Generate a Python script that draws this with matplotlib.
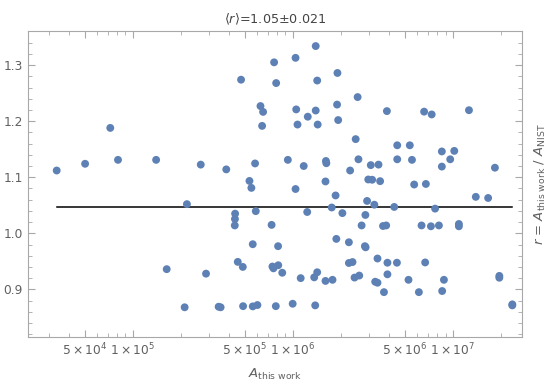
import numpy as np
import matplotlib
matplotlib.use("Agg")
import matplotlib.pyplot as plt
from matplotlib.ticker import FixedLocator, NullFormatter

# A_this work values and ratio r = A_this work / A_NIST
a_this = [3.35e4, 5.04e4, 7.24e4, 8.09e4, 1.40e5, 2.66e5, 2.18e5, 1.63e5, 2.87e5, 2.11e5,
          1.39e6, 1.04e6, 7.64e5, 4.75e5, 7.87e5, 1.42e6, 1.90e6, 2.54e6, 6.28e5, 6.52e5,
          6.43e5, 1.05e6, 1.39e6, 1.24e6, 1.89e6, 1.07e6, 1.43e6, 1.92e6, 2.47e6, 3.84e5,
          5.81e5, 9.31e5, 1.17e6, 1.61e6, 1.62e6, 2.57e6, 2.28e6, 5.36e5, 5.51e5, 1.04e6,
          1.60e6, 1.85e6, 5.87e5, 4.36e5, 4.35e5, 4.34e5, 1.23e6, 1.75e6, 2.04e6, 7.37e5,
          2.69e6, 5.62e5, 8.09e5, 1.87e6, 2.24e6, 4.53e5, 4.87e5, 7.46e5, 7.57e5, 8.11e5,
          8.59e5, 1.12e6, 1.36e6, 1.42e6, 1.60e6, 1.77e6, 2.24e6, 2.36e6, 2.43e6, 2.60e6,
          3.44e5, 3.54e5, 4.89e5, 5.62e5, 6.01e5, 7.83e5, 9.98e5, 1.38e6, 2.82e6, 2.84e6,
          2.91e6, 3.23e6, 3.07e6, 3.43e6, 2.96e6, 3.13e6, 3.51e6, 3.87e6, 4.49e6, 5.38e6,
          4.49e6, 5.55e6, 6.61e6, 7.37e6, 5.73e6, 6.78e6, 8.53e6, 1.02e7, 9.62e6, 8.53e6,
          1.26e7, 1.83e7, 4.30e6, 7.74e6, 1.39e7, 1.66e7, 3.66e6, 3.83e6, 6.37e6, 7.29e6,
          8.18e6, 1.09e7, 1.09e7, 3.38e6, 3.90e6, 4.47e6, 6.71e6, 3.27e6, 3.38e6, 3.90e6,
          5.28e6, 8.79e6, 3.71e6, 6.13e6, 8.57e6, 1.95e7, 1.95e7, 2.35e7, 2.35e7, 2.85e6]
ratio = [1.112, 1.124, 1.188, 1.131, 1.131, 1.1225, 1.052, 0.936, 0.928, 0.868,
         1.334, 1.313, 1.305, 1.274, 1.268, 1.2725, 1.286, 1.243, 1.227, 1.2166,
         1.1916, 1.221, 1.219, 1.208, 1.2296, 1.194, 1.194, 1.202, 1.168, 1.114,
         1.1246, 1.131, 1.120, 1.129, 1.125, 1.132, 1.112, 1.0934, 1.081, 1.079,
         1.0925, 1.0675, 1.0395, 1.035, 1.0255, 1.014, 1.038, 1.046, 1.036, 1.015,
         1.014, 0.9805, 0.977, 0.990, 0.984, 0.949, 0.940, 0.9407, 0.9375, 0.943,
         0.9296, 0.920, 0.9214, 0.9305, 0.915, 0.917, 0.947, 0.9487, 0.921, 0.9246,
         0.869, 0.868, 0.870, 0.8696, 0.872, 0.870, 0.8743, 0.8714, 0.977, 1.0327,
         1.0577, 1.051, 1.1216, 1.1225, 1.096, 1.0955, 1.093, 1.218, 1.157, 1.157,
         1.132, 1.131, 1.217, 1.212, 1.087, 1.088, 1.146, 1.147, 1.132, 1.119,
         1.2196, 1.117, 1.047, 1.044, 1.065, 1.063, 1.013, 1.014, 1.014, 1.0125,
         1.014, 1.0166, 1.0125, 0.955, 0.9475, 0.9475, 0.948, 0.9136, 0.9118, 0.9268,
         0.917, 0.917, 0.895, 0.895, 0.897, 0.924, 0.9207, 0.8732, 0.8714, 0.975]
mean_r = 1.0465

x_major = [5e4, 1e5, 5e5, 1e6, 5e6, 1e7]
x_labels = [r"$5\times10^{4}$", r"$1\times10^{5}$", r"$5\times10^{5}$",
            r"$1\times10^{6}$", r"$5\times10^{6}$", r"$1\times10^{7}$"]
y_major = [0.9, 1.0, 1.1, 1.2, 1.3]

plt.rcParams["mathtext.default"] = "regular"
plt.rcParams["font.size"] = 8.5

fig = plt.figure(figsize=(5.5, 3.85), dpi=100)
ax = fig.add_axes([0.0504, 0.1247, 0.8986, 0.7935])

ax.scatter(a_this, ratio, s=32, color="#5E81B5", edgecolors="none", zorder=3)
ax.plot([min(a_this), max(a_this)], [mean_r, mean_r], color="black", lw=1.1, zorder=2)

ax.set_xscale("log")
ax.set_xlim(2.208e4, 2.70e7)
ax.set_ylim(0.815, 1.360)

minor_x = [m * 10 ** e for e in range(4, 8) for m in range(2, 10)]
minor_x = [v for v in minor_x if v not in x_major]
ax.xaxis.set_major_locator(FixedLocator(x_major))
ax.set_xticklabels(x_labels)
ax.xaxis.set_minor_locator(FixedLocator(minor_x))
ax.xaxis.set_minor_formatter(NullFormatter())
ax.set_yticks(y_major)
ax.set_yticklabels(["0.9", "1.0", "1.1", "1.2", "1.3"])
ax.yaxis.set_minor_locator(FixedLocator(np.arange(0.82, 1.36, 0.02)))

grey = "#a8a8a8"
for s in ax.spines.values():
    s.set_color(grey)
ax.tick_params(which="both", direction="in", top=True, right=True, color=grey,
               labelcolor="#606060", labelsize=8.8)
ax.tick_params(which="major", length=5, width=0.8)
ax.tick_params(which="minor", length=2.8, width=0.6)

ax.set_title(r"$\langle \mathit{r}\rangle$=1.05±0.021", fontsize=9.2, color="#444444", pad=6)
ax.set_xlabel(r"$\mathit{A}_{\mathrm{this\ work}}$", fontsize=9.5, color="#606060", labelpad=6)
ax.yaxis.set_label_position("right")
ax.set_ylabel(r"$\mathit{r}$ = $\mathit{A}_{\mathrm{this\ work}}$ / $\mathit{A}_{\mathrm{NIST}}$",
              fontsize=9.5, color="#606060", labelpad=8)

fig.savefig("out.png", dpi=100)
